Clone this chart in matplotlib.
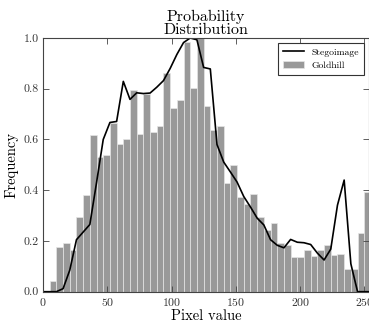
import numpy as np
import matplotlib
matplotlib.use("Agg")
import matplotlib.pyplot as plt

# bin positions (left edges) shared by both series
pixel_values = np.linspace(0, 255, 50)

goldhill = [0.0, 0.042, 0.177, 0.19, 0.166, 0.295, 0.38, 0.616, 0.53, 0.54,
            0.665, 0.582, 0.602, 0.796, 0.622, 0.78, 0.63, 0.655, 0.862, 0.724,
            0.757, 0.983, 0.804, 1.0, 0.733, 0.636, 0.655, 0.43, 0.498, 0.373,
            0.345, 0.384, 0.295, 0.245, 0.271, 0.19, 0.185, 0.138, 0.135, 0.164,
            0.142, 0.163, 0.183, 0.145, 0.148, 0.09, 0.09, 0.233, 0.393, 0.0]

stego = [0.0, 0.0, 0.0, 0.012, 0.085, 0.205, 0.235, 0.265, 0.43, 0.60,
         0.667, 0.671, 0.829, 0.758, 0.784, 0.781, 0.783, 0.806, 0.832, 0.88,
         0.935, 0.982, 1.0, 0.993, 0.884, 0.878, 0.58, 0.511, 0.472, 0.432,
         0.375, 0.334, 0.29, 0.263, 0.205, 0.183, 0.173, 0.206, 0.195, 0.193,
         0.186, 0.152, 0.125, 0.168, 0.341, 0.44, 0.11, 0.0, 0.0, 0.0]

plt.rcParams["font.family"] = ["cmr10", "DejaVu Serif"]
plt.rcParams["axes.formatter.use_mathtext"] = True

fig = plt.figure(figsize=(3.69, 3.25), dpi=100)
ax = fig.add_axes([43 / 369, 33.3 / 325, 326 / 369, 253.7 / 325])

ax.bar(pixel_values, goldhill, width=5.2, align="edge", color="#999999",
       edgecolor="#e6e6e6", linewidth=0.5, label="Goldhill")
ax.plot(pixel_values, stego, color="black", linewidth=1.2, label="Stegoimage")

ax.set_xlim(0, 253.5)
ax.set_ylim(0, 1.0)
ax.set_xticks([0, 50, 100, 150, 200, 250])
ax.set_yticks([0.0, 0.2, 0.4, 0.6, 0.8, 1.0])
ax.set_yticklabels(["0.0", "0.2", "0.4", "0.6", "0.8", "1.0"])
ax.tick_params(direction="in", top=True, right=True, length=4, width=0.6,
               labelsize=8.5, colors="#444444", labelcolor="#333333", pad=3)
for sp in ax.spines.values():
    sp.set_color("#444444")
    sp.set_linewidth(0.8)

ax.set_xlabel("Pixel value", fontsize=10.5, labelpad=1)
ax.set_ylabel("Frequency", fontsize=10.5, labelpad=4)
ax.set_title("Probability\nDistribution", fontsize=11.5, linespacing=0.9, pad=3)

leg = ax.legend(loc="upper right", fontsize=7, fancybox=False, framealpha=1,
                edgecolor="#333333", borderaxespad=0.5, handlelength=2.2,
                borderpad=0.5)
leg.get_frame().set_linewidth(0.8)

fig.savefig("out.png", dpi=100)
